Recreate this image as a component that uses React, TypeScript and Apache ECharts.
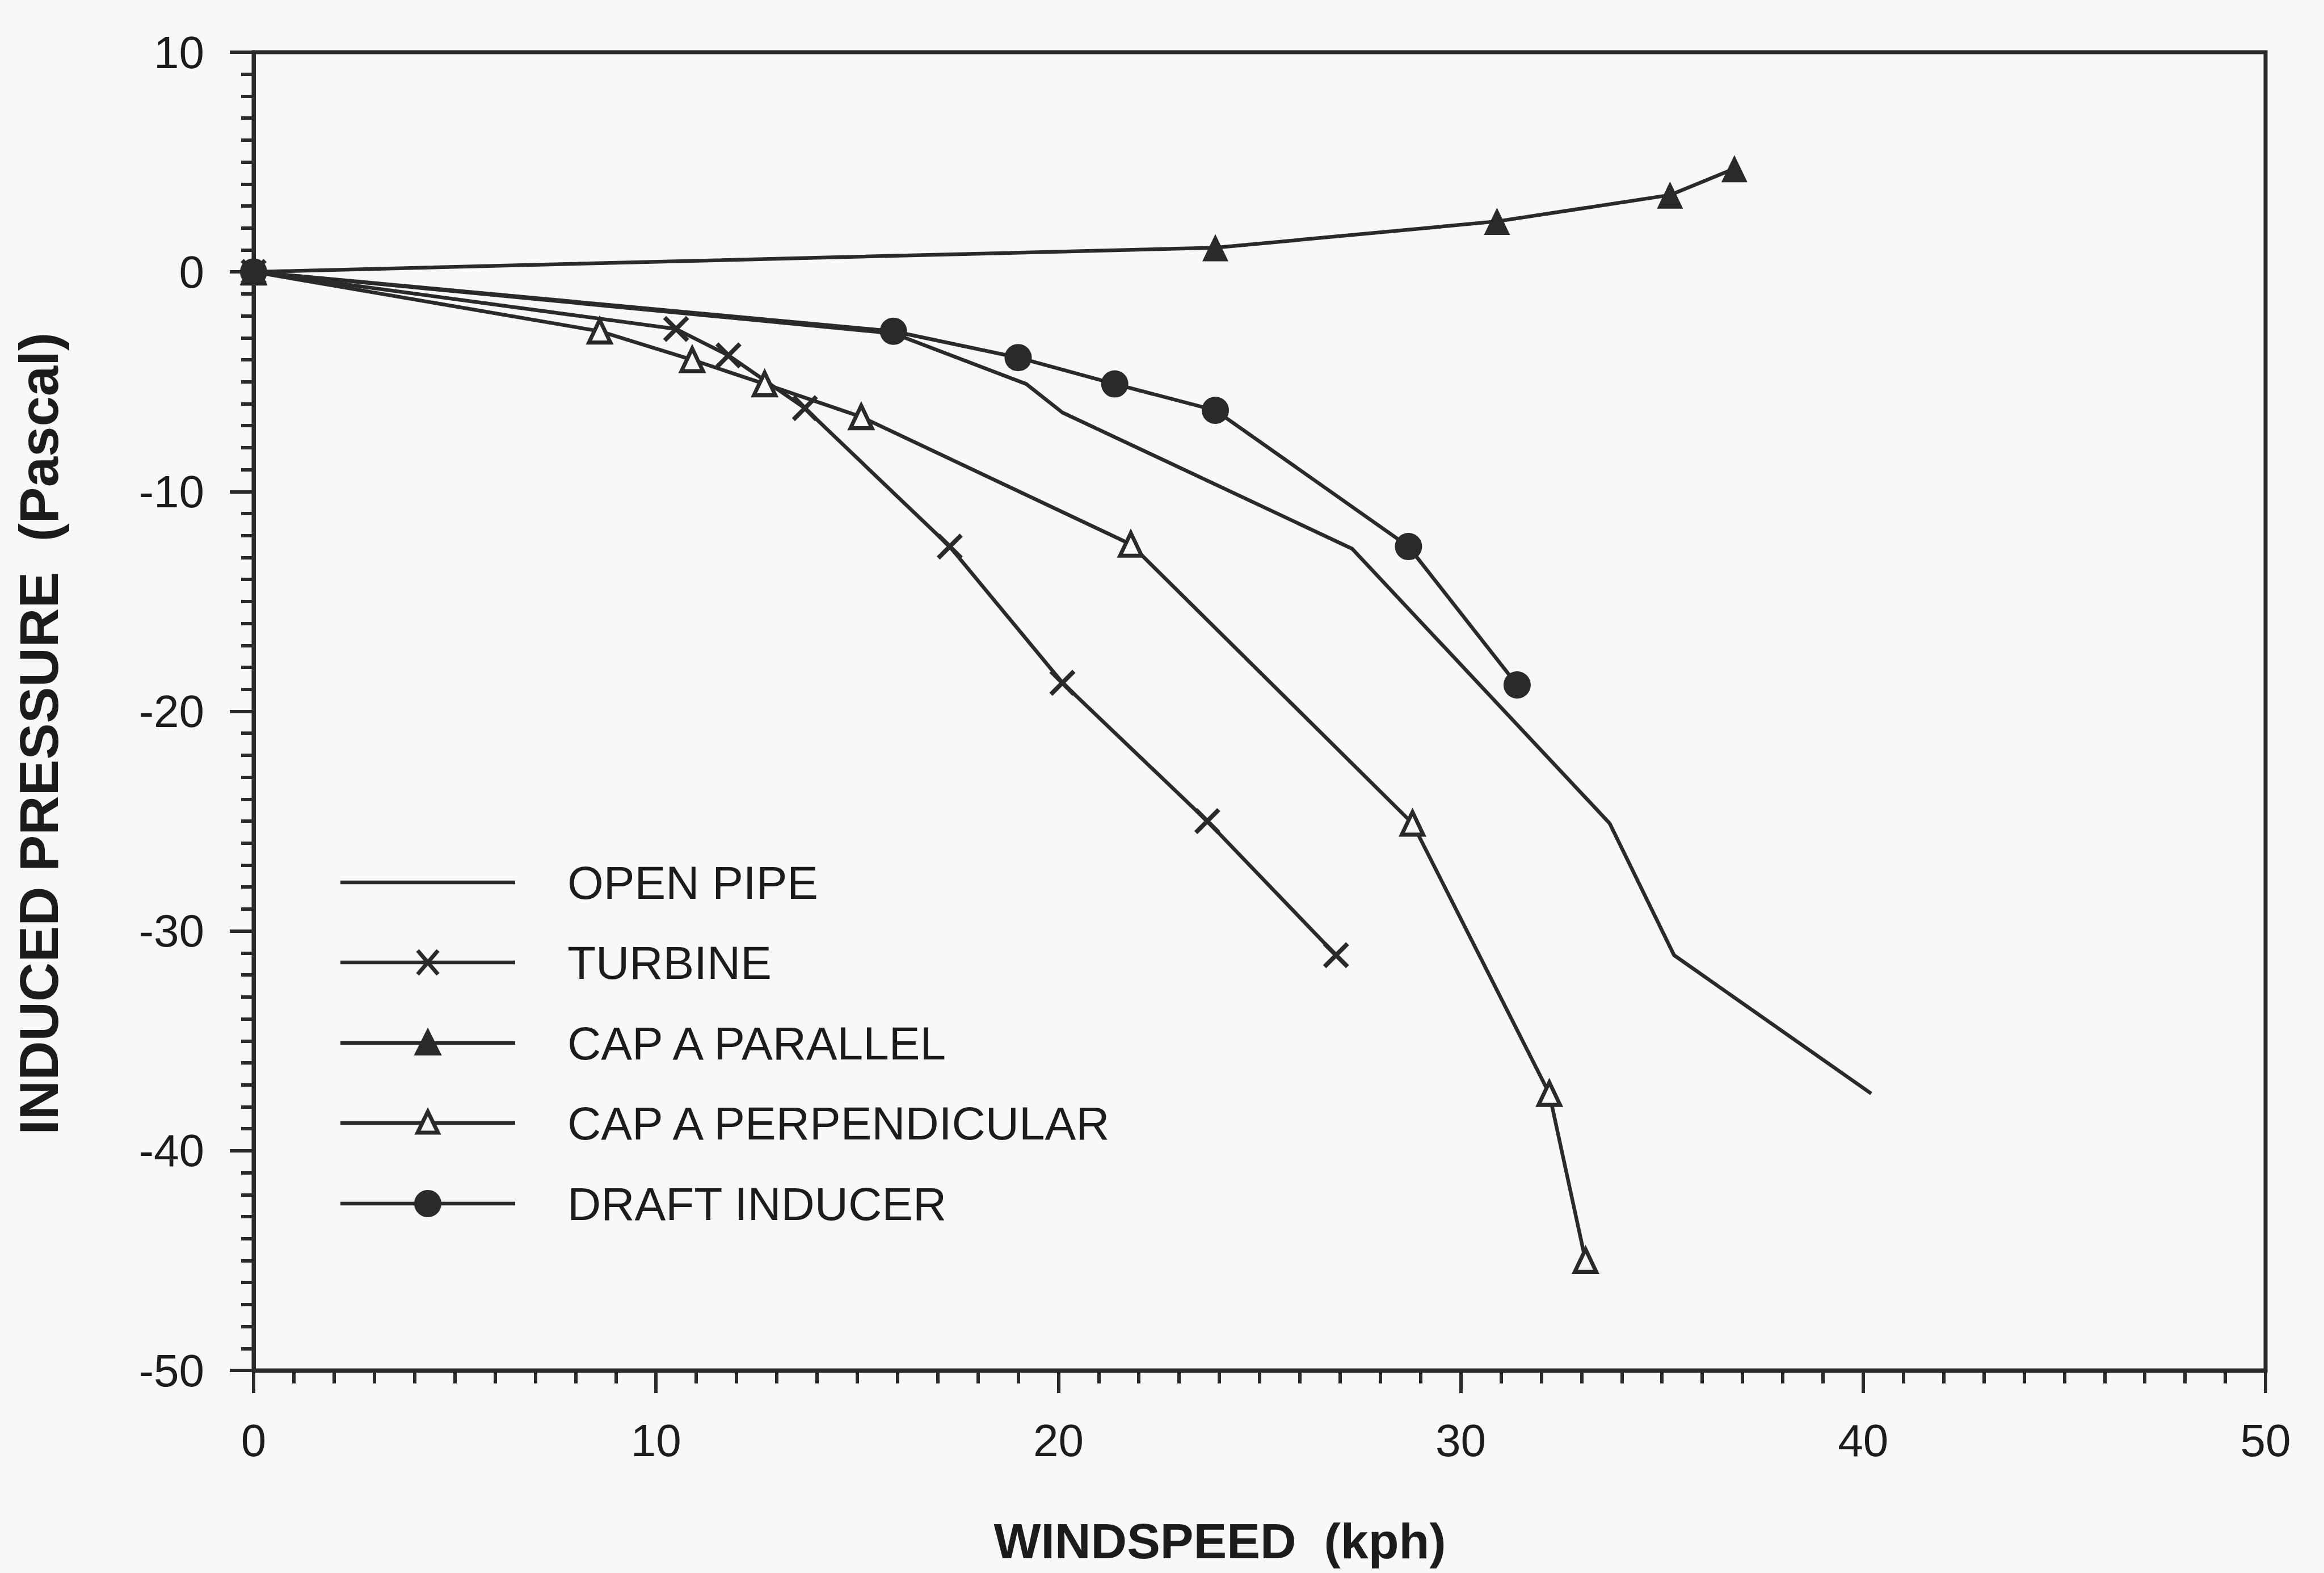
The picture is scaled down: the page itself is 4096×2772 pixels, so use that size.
import React, { useEffect, useRef } from "react";
import * as echarts from "echarts";

// ---- data ----
const xTickValues = [0, 10, 20, 30, 40, 50];
const yTickValues = [10, 0, -10, -20, -30, -40, -50];

const seriesNames = ["OPEN PIPE", "TURBINE", "CAP A PARALLEL", "CAP A PERPENDICULAR", "DRAFT INDUCER"];

const openPipeX = [0, 15.9, 19.2, 20.1, 27.3, 33.7, 35.3, 40.2];
const openPipeY = [0, -2.8, -5.1, -6.4, -12.6, -25.1, -31.1, -37.4];

const turbineX = [0, 10.5, 11.8, 13.7, 17.3, 20.1, 23.7, 26.9];
const turbineY = [0, -2.6, -3.8, -6.2, -12.5, -18.7, -25.0, -31.1];

const parallelX = [0, 23.9, 30.9, 35.2, 36.8];
const parallelY = [0, 1.1, 2.3, 3.5, 4.7];

const perpX = [0, 8.6, 10.9, 12.7, 15.1, 21.8, 28.8, 32.2, 33.1];
const perpY = [0, -2.7, -4.0, -5.1, -6.6, -12.4, -25.1, -37.4, -45.0];

const draftX = [0, 15.9, 19.0, 21.4, 23.9, 28.7, 31.4];
const draftY = [0, -2.7, -3.9, -5.1, -6.3, -12.5, -18.8];

const pairs = (xs: number[], ys: number[]) => xs.map((x, i) => [x, ys[i]]);

const INK = "#2a2a2a";
const TEXT = "#1c1c1c";
const BG = "#f7f8f7";
const FONT = '"Liberation Sans", Arial, Helvetica, sans-serif';
const CROSS = "path://M0,12 L12,0 L100,88 L88,100 Z M88,0 L100,12 L12,100 L0,88 Z";

export default function App() {
  const ref = useRef<HTMLDivElement>(null);

  useEffect(() => {
    if (!ref.current) return;
    const chart = echarts.init(ref.current, null, { renderer: "svg" });

    const lineStyle = { color: INK, width: 6.5 };
    const tickStyle = { color: INK, width: 6 };

    // legend graphics
    const legendRows = [1555, 1696, 1838, 1979, 2121];
    const lx0 = 600, lx1 = 908, mx = 754, tx = 1000;
    const legendGraphics: any[] = [];
    legendRows.forEach((yy, i) => {
      legendGraphics.push({
        type: "line",
        shape: { x1: lx0, y1: yy, x2: lx1, y2: yy },
        style: { stroke: INK, lineWidth: 6.5 },
      });
      legendGraphics.push({
        type: "text",
        x: tx,
        y: yy,
        style: {
          text: seriesNames[i],
          fontSize: 82,
          fontFamily: FONT,
          fill: TEXT,
          align: "left",
          verticalAlign: "middle",
        },
      });
    });
    // turbine cross
    legendGraphics.push({
      type: "line",
      shape: { x1: mx - 18, y1: legendRows[1] - 21, x2: mx + 18, y2: legendRows[1] + 21 },
      style: { stroke: INK, lineWidth: 7 },
    });
    legendGraphics.push({
      type: "line",
      shape: { x1: mx + 18, y1: legendRows[1] - 21, x2: mx - 18, y2: legendRows[1] + 21 },
      style: { stroke: INK, lineWidth: 7 },
    });
    // filled triangle
    legendGraphics.push({
      type: "polygon",
      shape: {
        points: [
          [mx, legendRows[2] - 25],
          [mx + 23, legendRows[2] + 21],
          [mx - 23, legendRows[2] + 21],
        ],
      },
      style: { fill: INK, stroke: INK, lineWidth: 2 },
    });
    // open triangle
    legendGraphics.push({
      type: "polygon",
      shape: {
        points: [
          [mx, legendRows[3] - 20],
          [mx + 18, legendRows[3] + 17],
          [mx - 18, legendRows[3] + 17],
        ],
      },
      style: { fill: BG, stroke: INK, lineWidth: 7 },
    });
    // circle
    legendGraphics.push({
      type: "circle",
      shape: { cx: mx, cy: legendRows[4], r: 24 },
      style: { fill: INK },
    });

    const option: any = {
      animation: false,
      backgroundColor: BG,
      grid: {
        left: 447,
        top: 92,
        width: 3546,
        height: 2323,
        show: true,
        borderColor: INK,
        borderWidth: 7,
        backgroundColor: "transparent",
      },
      xAxis: {
        type: "value",
        min: xTickValues[0],
        max: xTickValues[xTickValues.length - 1],
        interval: 10,
        axisLine: { show: true, onZero: false, lineStyle: { color: INK, width: 7 } },
        axisTick: { show: true, length: 40, lineStyle: tickStyle },
        minorTick: { show: true, splitNumber: 10, length: 23, lineStyle: tickStyle },
        splitLine: { show: false },
        minorSplitLine: { show: false },
        axisLabel: { fontSize: 80, fontFamily: FONT, color: TEXT, margin: 83 },
      },
      yAxis: {
        type: "value",
        min: yTickValues[yTickValues.length - 1],
        max: yTickValues[0],
        interval: 10,
        axisLine: { show: true, onZero: false, lineStyle: { color: INK, width: 7 } },
        axisTick: { show: true, length: 42, lineStyle: tickStyle },
        minorTick: { show: true, splitNumber: 10, length: 22, lineStyle: tickStyle },
        splitLine: { show: false },
        minorSplitLine: { show: false },
        axisLabel: { fontSize: 80, fontFamily: FONT, color: TEXT, margin: 87 },
      },
      series: [
        {
          name: seriesNames[0],
          type: "line",
          data: pairs(openPipeX, openPipeY),
          symbol: "none",
          lineStyle,
          z: 2,
        },
        {
          name: seriesNames[1],
          type: "line",
          data: pairs(turbineX, turbineY),
          symbol: CROSS,
          symbolSize: 46,
          showAllSymbol: true,
          itemStyle: { color: INK },
          lineStyle,
          z: 3,
        },
        {
          name: seriesNames[2],
          type: "line",
          data: pairs(parallelX, parallelY),
          symbol: "triangle",
          symbolSize: [46, 48],
          showAllSymbol: true,
          itemStyle: { color: INK },
          lineStyle,
          z: 3,
        },
        {
          name: seriesNames[3],
          type: "line",
          data: pairs(perpX, perpY),
          symbol: "triangle",
          symbolSize: [38, 40],
          showAllSymbol: true,
          itemStyle: { color: BG, borderColor: INK, borderWidth: 7, opacity: 1 },
          lineStyle,
          z: 3,
        },
        {
          name: seriesNames[4],
          type: "line",
          data: pairs(draftX, draftY),
          symbol: "circle",
          symbolSize: 48,
          showAllSymbol: true,
          itemStyle: { color: INK },
          lineStyle,
          z: 4,
        },
      ],
      graphic: [
        {
          type: "text",
          x: 2150,
          y: 2715,
          style: {
            text: "WINDSPEED  (kph)",
            fontSize: 88,
            fontWeight: "bold",
            fontFamily: FONT,
            fill: TEXT,
            align: "center",
            verticalAlign: "middle",
          },
        },
        {
          type: "text",
          x: 68,
          y: 1293,
          rotation: Math.PI / 2,
          style: {
            text: "INDUCED PRESSURE  (Pascal)",
            fontSize: 96,
            fontWeight: "bold",
            fontFamily: FONT,
            fill: TEXT,
            align: "center",
            verticalAlign: "middle",
          },
        },
        ...legendGraphics,
      ],
    };

    chart.setOption(option);
    return () => chart.dispose();
  }, []);

  return (
    <div
      ref={ref}
      style={{ position: "fixed", left: 0, top: 0, width: 4096, height: 2772, background: BG }}
    />
  );
}
